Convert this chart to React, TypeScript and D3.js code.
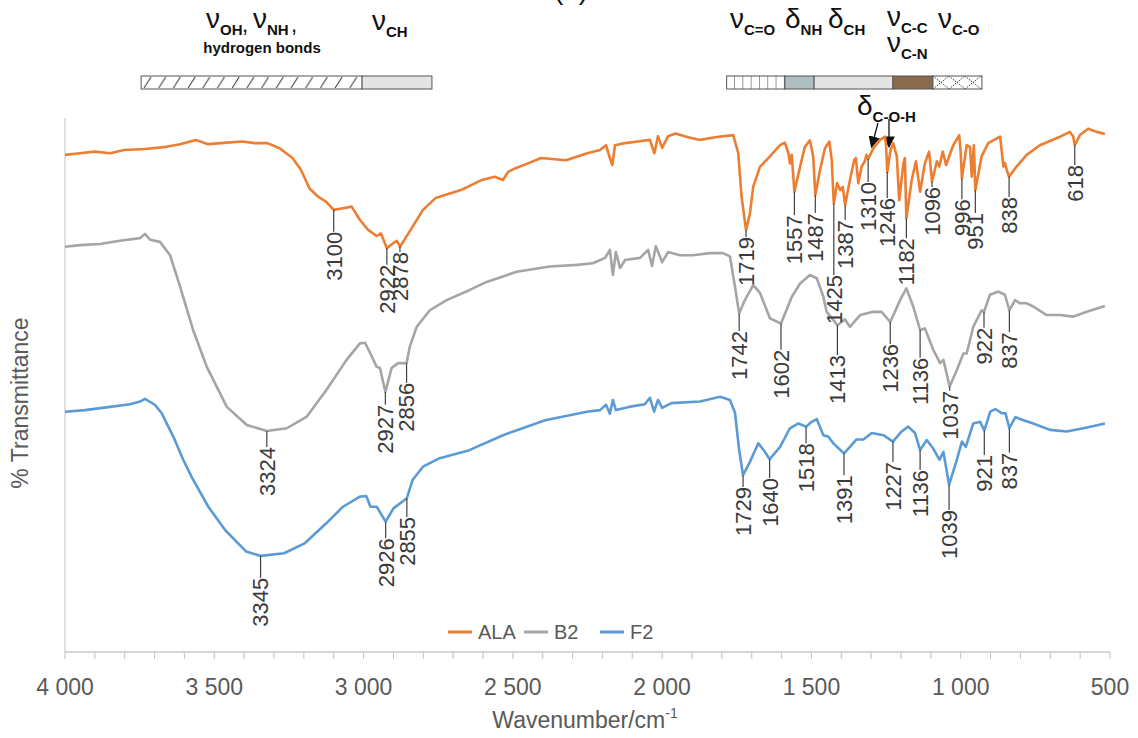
import React from 'react'
import * as d3 from 'd3'

type Pt = [number, number]

// spectra: [wavenumber cm-1, transmittance (offset, a.u.)]
const ala: Pt[] = [
  [4000, 93.1], [3950, 93.4], [3901, 93.7], [3849, 93.4], [3802, 94.0], [3732, 94.2], [3661, 94.6], [3615, 95.1],
  [3562, 95.9], [3521, 95.1], [3478, 95.3], [3407, 95.6], [3364, 95.3], [3322, 95.3], [3280, 94.3], [3238, 92.5],
  [3210, 90.3], [3181, 86.8], [3153, 85.3], [3125, 84.3], [3100, 82.8], [3069, 83.1], [3040, 83.4], [3012, 80.9],
  [2984, 79.0], [2956, 77.9], [2942, 78.4], [2922, 75.6], [2900, 76.6], [2888, 77.0], [2878, 75.9], [2843, 79.0],
  [2801, 82.8], [2759, 85.0], [2674, 86.5], [2604, 88.4], [2561, 89.0], [2533, 88.4], [2516, 89.9], [2491, 90.6],
  [2449, 91.5], [2406, 92.5], [2322, 92.1], [2251, 93.4], [2208, 94.0], [2188, 94.9], [2175, 92.5], [2167, 91.2],
  [2158, 94.9], [2124, 95.3], [2082, 95.6], [2041, 95.9], [2026, 93.4], [2014, 96.6], [2000, 94.4], [1980, 96.6],
  [1955, 97.1], [1913, 96.4], [1873, 95.9], [1823, 96.4], [1762, 96.8], [1745, 93.4], [1734, 85.3], [1719, 79.0],
  [1706, 82.1], [1695, 87.1], [1672, 90.9], [1639, 92.8], [1605, 94.9], [1589, 95.4], [1577, 93.4], [1572, 91.5],
  [1566, 93.1], [1557, 86.2], [1538, 90.9], [1522, 94.6], [1505, 95.8], [1494, 92.8], [1487, 85.6], [1471, 90.3],
  [1455, 94.3], [1440, 95.6], [1432, 92.1], [1425, 84.0], [1414, 87.8], [1404, 86.5], [1395, 87.1], [1387, 83.7],
  [1371, 88.4], [1357, 92.1], [1351, 92.5], [1343, 87.8], [1332, 90.9], [1321, 91.9], [1316, 93.1], [1310, 92.3],
  [1293, 94.3], [1270, 95.9], [1254, 96.5], [1250, 94.9], [1246, 89.9], [1235, 94.0], [1226, 95.3], [1214, 92.8],
  [1206, 84.6], [1192, 91.5], [1187, 92.5], [1182, 81.2], [1164, 88.4], [1150, 91.9], [1136, 86.2], [1120, 91.5],
  [1106, 93.7], [1096, 88.1], [1080, 91.9], [1072, 90.9], [1060, 93.7], [1049, 91.2], [1025, 94.9], [1005, 96.8],
  [1000, 93.4], [996, 88.7], [980, 94.9], [969, 94.6], [963, 89.0], [956, 94.9], [951, 86.5], [930, 92.8],
  [908, 95.3], [868, 96.5], [857, 90.9], [852, 91.6], [846, 90.3], [838, 89.0], [813, 90.9], [779, 93.1],
  [735, 94.9], [667, 96.5], [634, 97.4], [623, 96.5], [618, 94.9], [601, 96.8], [573, 98.0], [545, 97.4], [517, 97.0],
]

const b2: Pt[] = [
  [4000, 75.9], [3950, 76.2], [3883, 76.4], [3816, 77.0], [3749, 77.5], [3732, 78.3], [3715, 77.2], [3682, 76.8],
  [3648, 74.3], [3615, 68.5], [3571, 60.3], [3525, 53.4], [3458, 45.9], [3391, 42.5], [3324, 41.4], [3257, 41.9],
  [3190, 44.1], [3124, 49.1], [3057, 54.7], [3012, 57.8], [2995, 57.9], [2978, 56.0], [2956, 53.4], [2945, 53.2],
  [2927, 48.7], [2906, 53.2], [2884, 54.1], [2856, 54.1], [2845, 57.2], [2822, 60.9], [2778, 64.0], [2722, 65.9],
  [2644, 67.8], [2588, 69.3], [2487, 71.2], [2376, 72.2], [2286, 72.5], [2232, 72.8], [2191, 73.8], [2175, 75.3],
  [2165, 70.6], [2155, 74.9], [2141, 71.9], [2124, 73.4], [2074, 73.8], [2047, 75.3], [2034, 72.3], [2021, 76.0],
  [2000, 73.0], [1980, 74.9], [1940, 74.3], [1897, 74.3], [1840, 74.7], [1796, 74.7], [1773, 74.1], [1756, 68.4],
  [1742, 63.4], [1723, 65.9], [1695, 68.7], [1672, 67.2], [1639, 62.5], [1602, 61.5], [1566, 66.5], [1538, 69.0],
  [1505, 70.6], [1482, 70.0], [1460, 66.5], [1449, 63.7], [1427, 62.2], [1413, 61.2], [1388, 62.3], [1371, 60.9],
  [1337, 63.1], [1293, 63.7], [1265, 63.7], [1236, 61.8], [1203, 65.9], [1182, 68.1], [1159, 64.7], [1136, 60.3],
  [1120, 60.6], [1092, 56.6], [1069, 54.1], [1058, 54.7], [1037, 49.7], [1013, 52.8], [991, 55.9], [980, 55.9],
  [958, 60.9], [930, 64.0], [922, 63.7], [902, 66.9], [874, 67.5], [852, 66.9], [837, 64.0], [818, 65.9],
  [801, 65.3], [779, 65.3], [757, 64.7], [712, 63.1], [667, 63.1], [623, 62.8], [578, 63.7], [517, 64.8],
]

const f2: Pt[] = [
  [4000, 45.0], [3933, 45.3], [3849, 45.9], [3782, 46.4], [3749, 46.9], [3732, 47.4], [3699, 46.3], [3676, 44.7],
  [3637, 40.3], [3604, 36.0], [3576, 32.8], [3520, 27.2], [3463, 22.8], [3393, 18.8], [3345, 18.0], [3266, 18.5],
  [3196, 20.4], [3125, 24.1], [3069, 27.2], [3012, 29.1], [2991, 29.2], [2977, 27.2], [2956, 27.2], [2926, 24.4],
  [2900, 26.9], [2855, 28.8], [2836, 32.2], [2801, 34.7], [2745, 36.3], [2646, 37.8], [2533, 40.6], [2392, 43.4],
  [2252, 45.0], [2208, 45.3], [2188, 46.3], [2175, 44.6], [2165, 47.2], [2155, 45.3], [2111, 45.9], [2058, 46.4],
  [2041, 47.6], [2027, 45.0], [2014, 47.2], [2000, 45.7], [1969, 46.6], [1873, 46.9], [1806, 47.8], [1773, 47.2],
  [1756, 44.8], [1742, 37.8], [1729, 33.1], [1706, 35.6], [1678, 39.1], [1656, 37.5], [1640, 36.1], [1605, 38.4],
  [1572, 41.9], [1544, 42.8], [1518, 42.2], [1499, 43.1], [1482, 43.6], [1460, 40.6], [1443, 40.3], [1427, 39.1],
  [1391, 37.2], [1371, 38.4], [1349, 39.8], [1326, 39.8], [1298, 41.0], [1259, 40.6], [1227, 39.4], [1198, 41.3],
  [1176, 42.2], [1153, 41.0], [1136, 37.8], [1114, 39.7], [1092, 38.1], [1071, 36.0], [1058, 37.5], [1039, 31.3],
  [1013, 36.0], [996, 39.4], [983, 38.4], [958, 42.8], [935, 43.1], [921, 41.5], [901, 45.0], [884, 45.5],
  [862, 44.7], [850, 44.7], [837, 41.9], [817, 44.0], [785, 43.3], [757, 42.8], [701, 41.6], [645, 41.3],
  [589, 41.9], [517, 42.8],
]

// peak labels: [wavenumber, level where the label text starts]
const alaPeaks: Pt[] = [
  [3100, 78.7], [2922, 72.5], [2878, 74.9], [1719, 77.7], [1557, 81.8], [1487, 82.2], [1425, 70.6], [1387, 80.9],
  [1310, 88.0], [1246, 85.0], [1182, 77.5], [1096, 87.1], [996, 84.8], [951, 82.2], [838, 85.2], [618, 91.2],
]
const b2Peaks: Pt[] = [
  [3324, 38.4], [2927, 46.3], [2856, 50.4], [1742, 60.1], [1602, 56.6], [1413, 55.6], [1236, 57.7], [1136, 55.1],
  [1037, 48.9], [922, 60.7], [837, 59.9],
]
const f2Peaks: Pt[] = [
  [3345, 13.9], [2926, 21.3], [2855, 25.3], [1729, 30.9], [1640, 32.6], [1518, 39.1], [1391, 33.1], [1227, 35.6],
  [1136, 34.1], [1039, 26.6], [921, 36.9], [837, 37.3],
]

const seriesNames = ['ALA', 'B2', 'F2']
const seriesColors = ['#ed7d31', '#a5a5a5', '#5b9bd5']

const xTicks = [4000, 3500, 3000, 2500, 2000, 1500, 1000, 500]
const minorTicks = d3.range(500, 4001, 100)

// assignment bands above the plot [from, to] in cm-1
const bands: Pt[] = [[3745, 3005], [3005, 2771], [1784, 1589], [1589, 1491], [1491, 1227], [1227, 1093], [1093, 929]]
const bandFills = ['url(#hatch)', '#e4e4e4', 'url(#vlines)', '#aebfc3', '#e4e4e4', '#8b6b4f', 'url(#cross)']

const W = 1138, H = 738
const m = { left: 65, right: 1110, top: 118, bottom: 652 }
const AX = '#595959'
const FONT = '"Liberation Sans", Arial, sans-serif'

const x = d3.scaleLinear().domain([4000, 500]).range([m.left, m.right])
const y = d3.scaleLinear().domain([0, 100]).range([m.bottom, m.top])
const line = d3.line<Pt>().x(d => x(d[0])).y(d => y(d[1]))
const fmt = d3.formatLocale({ decimal: '.', thousands: '\u00a0', grouping: [3], currency: ['', ''] }).format(',')

function Labels({ peaks, data }: { peaks: Pt[]; data: Pt[] }) {
  return (
    <g>
      {peaks.map(([w, lv]) => {
        const cv = data.find(p => p[0] === w)
        const px = x(w)
        const y1 = y(cv ? cv[1] : lv)
        const y2 = y(lv)
        return (
          <g key={w}>
            <line x1={px} x2={px} y1={y1} y2={y2} stroke="#404040" strokeWidth={1.2} />
            <text transform={`translate(${px},${y2}) rotate(-90)`} textAnchor="end" dy="0.36em"
              fontSize={22} fill="#3a3a3a" fontFamily={FONT}>{w}</text>
          </g>
        )
      })}
    </g>
  )
}

function Sym({ x0, yb, g, sub, dyS = 7 }: { x0: number; yb: number; g: string; sub: string; dyS?: number }) {
  return (
    <text x={x0} y={yb} fontFamily={FONT} fill="#111">
      <tspan fontSize={28}>{g}</tspan>
      <tspan fontSize={15} fontWeight="bold" dy={dyS}>{sub}</tspan>
    </text>
  )
}

export default function App() {
  const data = [ala, b2, f2]
  const peaks = [alaPeaks, b2Peaks, f2Peaks]
  return (
    <svg width={W} height={H} style={{ position: 'absolute', left: 0, top: 0, background: '#fff' }}>
      <defs>
        <pattern id="hatch" patternUnits="userSpaceOnUse" x={141} y={76} width={14.7} height={13}>
          <path d="M3,12 L10,1" stroke="#333" strokeWidth={1} />
        </pattern>
        <pattern id="vlines" patternUnits="userSpaceOnUse" x={726.7} y={76} width={8.3} height={13}>
          <rect width={8.3} height={13} fill="#fff" />
          <path d="M8.3,0 V13" stroke="#333" strokeWidth={1} />
        </pattern>
        <pattern id="cross" patternUnits="userSpaceOnUse" x={933} y={76} width={16} height={13}>
          <rect width={16} height={13} fill="#fff" />
          <path d="M0,0 L16,13 M0,13 L16,0" stroke="#333" strokeWidth={0.9} strokeDasharray="1.5,1" />
        </pattern>
        <marker id="arr" viewBox="0 0 10 10" refX={9} refY={5} markerWidth={9} markerHeight={9} orient="auto">
          <path d="M0,0 L10,5 L0,10 Z" fill="#111" />
        </marker>
      </defs>

      {/* title, clipped at top as in the source */}
      <text x={571} y={-1} textAnchor="middle" fontSize={28} fontFamily={FONT} fill="#111">(a)</text>

      {/* band assignments */}
      {bands.map(([a, b], i) => (
        <rect key={i} x={x(a)} y={76} width={x(b) - x(a)} height={13}
          fill={bandFills[i]} stroke="#555" strokeWidth={1} />
      ))}

      <Sym x0={206} yb={28} g="ν" sub="OH" />
      <text x={242} y={32} fontSize={22} fontFamily={FONT} fill="#111">,</text>
      <Sym x0={253} yb={28} g="ν" sub="NH" />
      <text x={291} y={32} fontSize={22} fontFamily={FONT} fill="#111">,</text>
      <text x={262} y={53} textAnchor="middle" fontSize={15} fontWeight="bold" fontFamily={FONT} fill="#111">hydrogen bonds</text>
      <Sym x0={372} yb={30} g="ν" sub="CH" />

      <Sym x0={730} yb={28} g="ν" sub="C=O" />
      <Sym x0={785} yb={28} g="δ" sub="NH" />
      <Sym x0={828} yb={28} g="δ" sub="CH" />
      <Sym x0={887} yb={26} g="ν" sub="C-C" />
      <Sym x0={887} yb={52} g="ν" sub="C-N" />
      <Sym x0={938} yb={28} g="ν" sub="C-O" />
      <Sym x0={857} yb={115} g="δ" sub="C-O-H" />
      <line x1={878} y1={123} x2={871.5} y2={147} stroke="#111" strokeWidth={1.3} markerEnd="url(#arr)" />
      <line x1={889} y1={119} x2={889} y2={147} stroke="#111" strokeWidth={1.3} markerEnd="url(#arr)" />

      {/* axes */}
      <line x1={m.left} x2={m.left} y1={m.top} y2={m.bottom} stroke="#d0d0d0" strokeWidth={1.3} />
      <line x1={m.left} x2={m.right} y1={m.bottom} y2={m.bottom} stroke="#c8c8c8" strokeWidth={1.3} />
      {minorTicks.map(t => (
        <line key={t} x1={x(t)} x2={x(t)} y1={m.bottom} y2={m.bottom + 7} stroke="#c8c8c8" strokeWidth={1.2} />
      ))}
      {xTicks.map(t => (
        <text key={t} x={x(t)} y={695} textAnchor="middle" fontSize={23} fill={AX} fontFamily={FONT}>{fmt(t)}</text>
      ))}
      <text x={585} y={728} textAnchor="middle" fontSize={23} fill={AX} fontFamily={FONT}>
        Wavenumber/cm<tspan fontSize={14} dy={-10}>-1</tspan>
      </text>
      <text transform={`translate(28,${(m.top + m.bottom) / 2 + 18}) rotate(-90)`} textAnchor="middle"
        fontSize={23} fill={AX} fontFamily={FONT}>% Transmittance</text>

      {/* spectra */}
      {data.map((d, i) => (
        <path key={i} d={line(d) || ''} fill="none" stroke={seriesColors[i]} strokeWidth={2.6} strokeLinejoin="round" />
      ))}
      {data.map((d, i) => <Labels key={i} peaks={peaks[i]} data={d} />)}

      {/* legend */}
      {seriesNames.map((n, i) => {
        const lx = 448 + i * 76
        return (
          <g key={n}>
            <line x1={lx} x2={lx + 24} y1={632} y2={632} stroke={seriesColors[i]} strokeWidth={3} />
            <text x={lx + 30} y={639} fontSize={20} fill={AX} fontFamily={FONT}>{n}</text>
          </g>
        )
      })}
    </svg>
  )
}
